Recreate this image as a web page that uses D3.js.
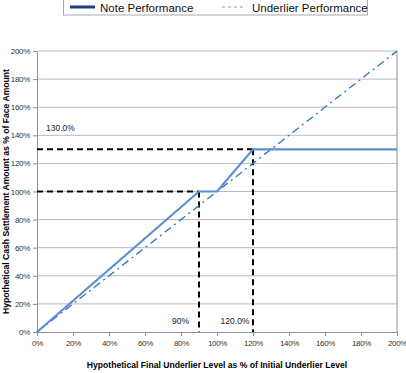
<!DOCTYPE html>
<html><head><meta charset="utf-8">
<script src="https://cdn.jsdelivr.net/npm/d3@7"></script>
<style>body{margin:0;background:#fff}svg{display:block;font-family:"Liberation Sans",Arial,sans-serif}</style>
</head><body><svg id="c" width="406" height="373"></svg>
<script>
const xTicks = [0,20,40,60,80,100,120,140,160,180,200];
const yTicks = [0,20,40,60,80,100,120,140,160,180,200];
const noteX = [0,90,100,120,200];
const noteY = [0,100,100,130,130];
const underX = [0,200];
const underY = [0,200];
const guideH = [{y:100,x:90},{y:130,x:120}];
const labels = [{t:"130.0%",x:5,y:143},{t:"90%",x:75,y:6},{t:"120.0%",x:102,y:6}];
const seriesNames = ["Note Performance","Underlier Performance"];

const svg = d3.select("#c");
const L=37,R=397,T=51,B=332;
const x = d3.scaleLinear().domain([0,200]).range([L,R]);
const y = d3.scaleLinear().domain([0,200]).range([B,T]);
const axisCol="#8c8cab";

svg.append("g").selectAll("line").data(yTicks.filter(d=>d>0)).join("line")
  .attr("x1",L).attr("x2",R).attr("y1",d=>y(d)).attr("y2",d=>y(d))
  .attr("stroke","#b8b8c8").attr("stroke-width",1);
svg.append("line").attr("x1",R).attr("x2",R).attr("y1",T).attr("y2",B).attr("stroke",axisCol);

const xa = d3.axisBottom(x).tickValues(xTicks).tickFormat(d=>d+"%").tickSize(4).tickSizeOuter(0);
const gx = svg.append("g").attr("transform",`translate(0,${B})`).call(xa);
const ya = d3.axisLeft(y).tickValues(yTicks).tickFormat(d=>d+"%").tickSize(4).tickSizeOuter(0);
const gy = svg.append("g").attr("transform",`translate(${L},0)`).call(ya);
[gx,gy].forEach(g=>{
  g.select(".domain").attr("stroke",axisCol);
  g.selectAll(".tick line").attr("stroke",axisCol);
  g.selectAll("text").attr("fill","#333").style("font-size","8px").style("font-family","Liberation Sans, Arial").style("letter-spacing","-0.3px");
});
gx.selectAll("text").attr("dy","0.9em");

const gd = svg.append("g").attr("stroke","#000").attr("stroke-width",2).attr("stroke-dasharray","6,4").attr("fill","none");
guideH.forEach(g=>{
  gd.append("line").attr("x1",x(0)).attr("x2",x(g.x)).attr("y1",y(g.y)).attr("y2",y(g.y));
  gd.append("line").attr("x1",x(g.x)).attr("x2",x(g.x)).attr("y1",y(g.y)).attr("y2",y(0));
});

const line = d3.line().x(d=>x(d[0])).y(d=>y(d[1]));
svg.append("path").datum(underX.map((v,i)=>[v,underY[i]])).attr("d",line)
  .attr("fill","none").attr("stroke","#2f73bf").attr("stroke-width",1.3).attr("stroke-dasharray","8,4,2,4");
svg.append("path").datum(noteX.map((v,i)=>[v,noteY[i]])).attr("d",line)
  .attr("fill","none").attr("stroke","#5a8fd0").attr("stroke-width",2.2);

labels.forEach(l=>{
  svg.append("text").attr("x",x(l.x)).attr("y",y(l.y)).text(l.t)
    .attr("font-size","8.5px").attr("fill","#222").attr("text-anchor","start");
});

svg.append("text").attr("x",(L+R)/2).attr("y",368).attr("text-anchor","middle")
  .attr("font-size","8.6px").attr("font-weight","bold").text("Hypothetical Final Underlier Level as % of Initial Underlier Level");
svg.append("text").attr("transform",`translate(9,${(T+B)/2}) rotate(-90)`).attr("text-anchor","middle")
  .attr("font-size","8.6px").attr("font-weight","bold").text("Hypothetical Cash Settlement Amount as % of Face Amount");

const lg = svg.append("g");
lg.append("rect").attr("x",63.5).attr("y",-1).attr("width",304).attr("height",16)
  .attr("fill","#fff").attr("stroke","#aaa");
lg.append("line").attr("x1",70).attr("x2",95).attr("y1",7).attr("y2",7).attr("stroke","#1f3c78").attr("stroke-width",3);
lg.append("text").attr("x",100).attr("y",11.5).attr("font-size","11.5px").attr("fill","#111").text(seriesNames[0]);
lg.append("line").attr("x1",222).attr("x2",246).attr("y1",7).attr("y2",7).attr("stroke","#7a9fd0").attr("stroke-width",1).attr("stroke-dasharray","3,3");
lg.append("text").attr("x",252).attr("y",11.5).attr("font-size","11.5px").attr("fill","#111").text(seriesNames[1]);
</script></body></html>
